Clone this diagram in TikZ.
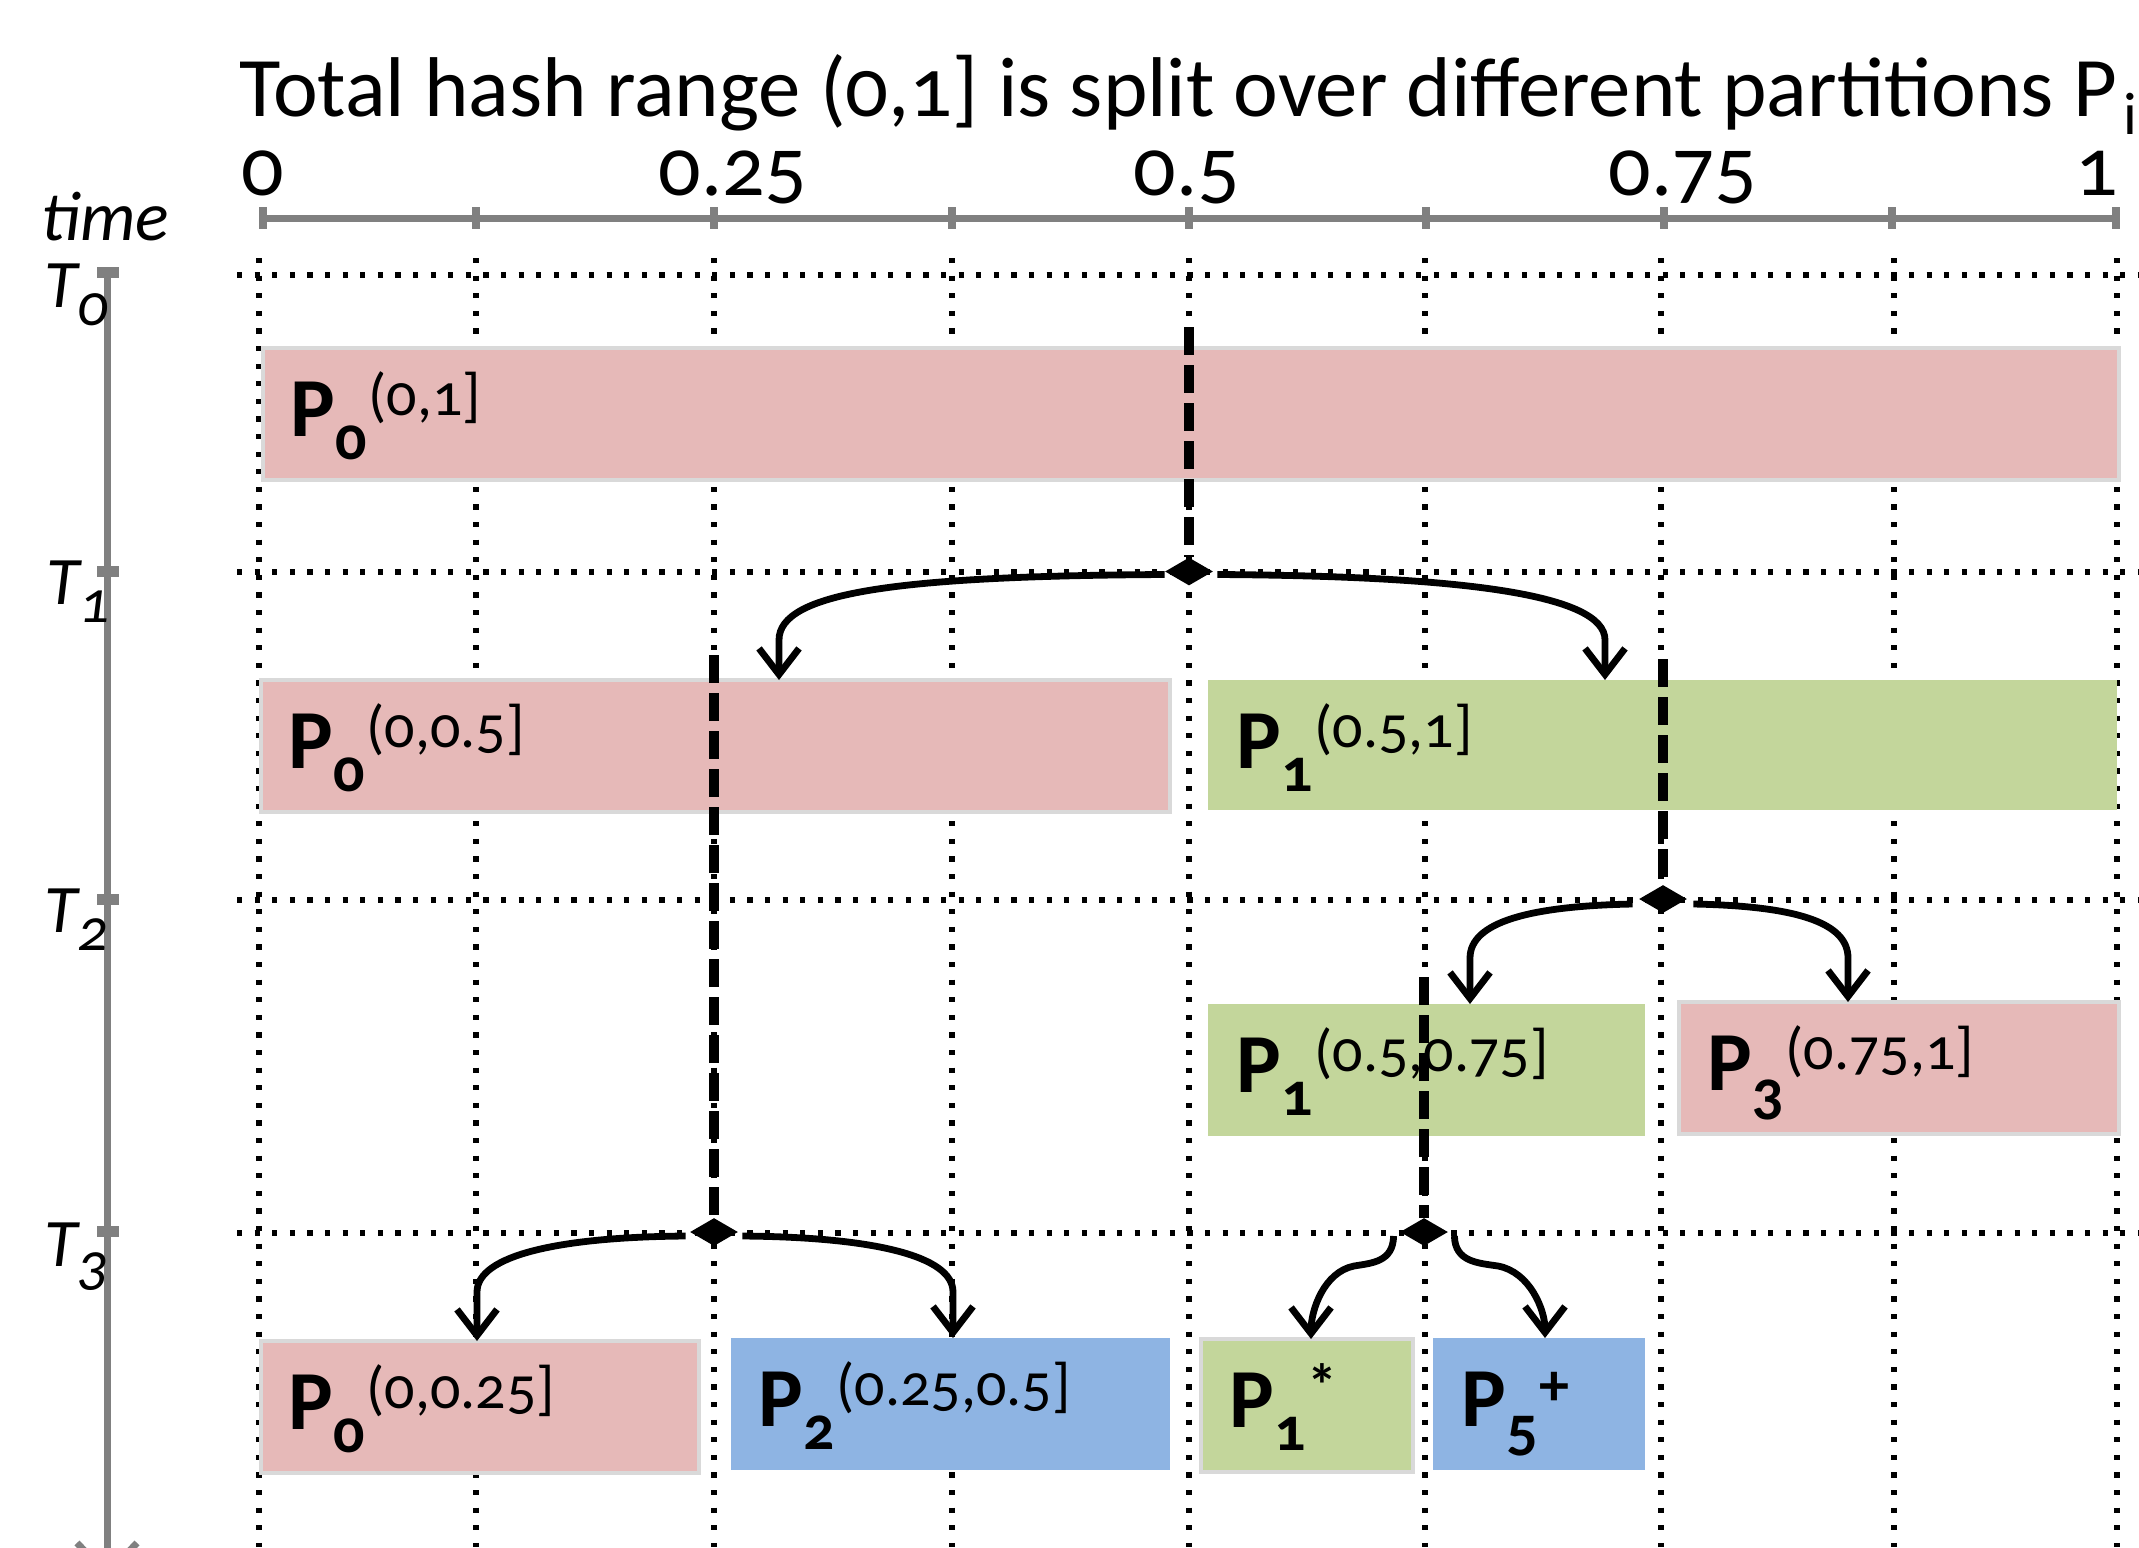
\documentclass[tikz,border=0pt]{standalone}
\usepackage{fontspec}
\setmainfont{Carlito}[Numbers=OldStyle]
\usetikzlibrary{arrows.meta,shapes.geometric}
\definecolor{pinkc}{HTML}{E6B9B8}
\definecolor{greenc}{HTML}{C3D69B}
\definecolor{bluec}{HTML}{8EB4E3}
\definecolor{bordc}{HTML}{D9D9D9}
\definecolor{axisc}{HTML}{808080}
\newcommand\boxlbl[2]{{\fontsize{42}{42}\selectfont\bfseries P}{\fontsize{31}{31}\selectfont\bfseries\raisebox{-11.5pt}{#1}}\hspace{1pt}{\fontsize{30}{30}\selectfont\raisebox{10.5pt}{#2}}}
\newcommand\tlbl[1]{{\fontsize{34}{34}\selectfont\itshape T\raisebox{-9pt}{\fontsize{30}{30}\selectfont #1}}}
\begin{document}
\begin{tikzpicture}[x=0.5pt,y=-0.5pt,
  gridln/.style={line width=2.8pt, dash pattern=on 2.6pt off 6.2pt},
  partbox/.style={anchor=north west, inner sep=0pt, outer sep=0pt},
  pinkbox/.style={partbox, fill=pinkc, draw=bordc, line width=2pt},
  greenbox/.style={partbox, fill=greenc},
  bluebox/.style={partbox, fill=bluec},
  lbl/.style={anchor=base west, inner sep=0pt},
  splitline/.style={line width=5pt, dash pattern=on 14pt off 5pt},
  splitpt/.style={diamond, fill=black, inner sep=0pt, minimum width=24pt, minimum height=14pt},
  conn/.style={line width=3.4pt, -{Straight Barb[length=13pt,width=20pt]}},
  axisln/.style={axisc, line width=3.5pt},
  axlbl/.style={inner sep=0pt, font=\fontsize{42}{42}\selectfont},
]
\useasboundingbox (0,0) rectangle (2139,1547);

% title
\node[anchor=base west, inner sep=0pt] (title) at (239,116)
  {\fontsize{42.4}{43}\selectfont Total hash range (0,1] is split over different partitions P\hspace{3pt}\raisebox{-9pt}{\fontsize{30}{30}\selectfont i}};

% hash axis
\draw[axisln] (263,218) -- (2116,218);
\foreach \x in {263,476,714,952,1189,1426,1664,1892,2116}
  \draw[axisc, line width=4pt] (\x,207) -- (\x,229);
\node[axlbl, anchor=base] (ax0) at (263,195) {0};
\node[axlbl, anchor=base west] (ax1) at (722,195) {\llap{0.}25};
\node[axlbl, anchor=base west] (ax2) at (1197,195) {\llap{0.}5};
\node[axlbl, anchor=base west] (ax3) at (1672,195) {\llap{0.}75};
\node[axlbl, anchor=base east] (ax4) at (2118,195) {1};

% grid
\foreach \x in {259,476,714,952,1189,1425,1661,1894,2117}
  \draw[gridln] (\x,258) -- (\x,1547);
\foreach \y in {275,572,900,1233}
  \draw[gridln] (237,\y) -- (2139,\y);

% time axis
\node[anchor=base west, inner sep=0pt] (time) at (41,240) {\fontsize{35}{35}\selectfont\itshape time};
\draw[axisln, -{Straight Barb[length=16pt,width=30pt]}] (107,272) -- (107,1580);
\foreach \y in {272,571,899,1231}
  \fill[axisc] (97,\y-5.5) rectangle (119,\y+5.5);
\node[lbl] (t0) at (44,307) {\tlbl{0}};
\node[lbl] (t1) at (46,604) {\tlbl{1}};
\node[lbl] (t2) at (44,932) {\tlbl{2}};
\node[lbl] (t3) at (44,1266) {\tlbl{3}};

% partitions
\node[pinkbox, minimum width=928pt, minimum height=66pt] (b0) at (263,348) {};
\node[pinkbox, minimum width=454.5pt, minimum height=66pt] (b1) at (261,680) {};
\node[greenbox, minimum width=454.5pt, minimum height=65pt] (b2) at (1208,680) {};
\node[greenbox, minimum width=218.5pt, minimum height=66pt] (b3) at (1208,1004) {};
\node[pinkbox, minimum width=220pt, minimum height=66pt] (b4) at (1679,1002) {};
\node[pinkbox, minimum width=219pt, minimum height=66pt] (b5) at (261,1341) {};
\node[bluebox, minimum width=219.5pt, minimum height=66pt] (b6) at (731,1338) {};
\node[pinkbox, fill=greenc, minimum width=106pt, minimum height=66.5pt] (b7) at (1201,1339) {};
\node[bluebox, minimum width=106pt, minimum height=66pt] (b8) at (1433,1338) {};

\node[lbl] (l0) at ([xshift=13.5pt,yshift=-44pt]b0.north west) {\boxlbl{0}{(0,1]}};
\node[lbl] (l1) at ([xshift=13.5pt,yshift=-44pt]b1.north west) {\boxlbl{0}{(0,0.5]}};
\node[lbl] (l2) at ([xshift=14pt,yshift=-44pt]b2.north west) {\boxlbl{1}{(0.5,1]}};
\node[lbl] (l3) at ([xshift=14pt,yshift=-44pt]b3.north west) {\boxlbl{1}{(0.5,0.75]}};
\node[lbl] (l4) at ([xshift=14pt,yshift=-44pt]b4.north west) {\boxlbl{3}{(0.75,1]}};
\node[lbl] (l5) at ([xshift=13.5pt,yshift=-44pt]b5.north west) {\boxlbl{0}{(0,0.25]}};
\node[lbl] (l6) at ([xshift=13.5pt,yshift=-44pt]b6.north west) {\boxlbl{2}{(0.25,0.5]}};
\node[lbl] (l7) at ([xshift=14pt,yshift=-44pt]b7.north west) {\boxlbl{1}{\bfseries *}};
\node[lbl] (l8) at ([xshift=14pt,yshift=-44pt]b8.north west) {\boxlbl{5}{\bfseries +}};

% split points
\node[splitpt] (s1) at (1189,571.5) {};
\node[splitpt] (s2) at (1663,899) {};
\node[splitpt] (s3) at (714,1232) {};
\node[splitpt] (s4) at (1424,1232) {};
\coordinate (c1) at (1189,327);
\coordinate (c2) at (1663,659);
\coordinate (c3) at (714,655);
\coordinate (c4) at (1424,977);
\draw[splitline] (c1) -- (s1.north);
\draw[splitline] (c2) -- (s2.north);
\draw[splitline] (c3) -- (s3.north);
\draw[splitline] (c4) -- (s4.north);

% connectors
\draw[conn] ([yshift=-1.5pt]s1.west) .. controls (900,576) and (779,592) .. (779,640) -- ([xshift=259pt]b1.north west);
\draw[conn] ([xshift=2pt,yshift=-1.5pt]s1.east) .. controls (1460,576) and (1605,594) .. (1605,640) -- ([xshift=198.5pt]b2.north west);
\draw[conn] ([xshift=-3pt,yshift=-2.5pt]s2.west) .. controls (1530,906) and (1470,922) .. (1470,958) -- ([xshift=131pt]b3.north west);
\draw[conn] ([xshift=3pt,yshift=-2.5pt]s2.east) .. controls (1795,906) and (1848,922) .. (1848,958) -- ([xshift=84.5pt]b4.north west);
\draw[conn] ([xshift=-2pt,yshift=-2pt]s3.west) .. controls (560,1237) and (477,1255) .. (477,1292) -- ([xshift=108pt]b5.north west);
\draw[conn] ([xshift=2pt,yshift=-2pt]s3.east) .. controls (870,1237) and (953,1255) .. (953,1292) -- ([xshift=111pt]b6.north west);
\draw[conn] ([xshift=-3pt,yshift=-2pt]s4.west) .. controls (1393,1262) and (1372,1263) .. (1354,1266) .. controls (1324,1272) and (1311,1310) .. ([xshift=55pt]b7.north west);
\draw[conn] ([xshift=3pt,yshift=-2pt]s4.east) .. controls (1455,1262) and (1478,1263) .. (1498,1266) .. controls (1530,1272) and (1545,1310) .. ([xshift=56pt]b8.north west);
\end{tikzpicture}
\end{document}
